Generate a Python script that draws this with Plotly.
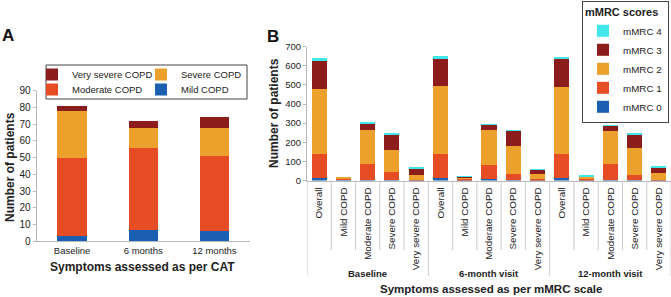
import plotly.graph_objects as go

# ---------------- Panel A data ----------------
periods_a = ["Baseline", "6 months", "12 months"]
mild_a = [3, 7, 6]
moderate_a = [47, 49, 45]
severe_a = [28, 12, 17]
very_severe_a = [3, 4, 6]

# ---------------- Panel B data ----------------
visits_b = ["Baseline", "6-month visit", "12-month visit"]
subgroups_b = ["Overall", "Mild COPD", "Moderate COPD", "Severe COPD", "Very severe COPD"]
mmrc0 = [12, 2, 5, 3, 1, 12, 3, 7, 1, 1, 12, 3, 5, 2, 1]
mmrc1 = [128, 12, 79, 39, 2, 125, 10, 72, 34, 6, 125, 10, 79, 29, 4]
mmrc2 = [338, 3, 182, 119, 27, 360, 6, 183, 143, 26, 353, 7, 175, 137, 33]
mmrc3 = [152, 0, 33, 81, 35, 145, 4, 30, 84, 25, 145, 4, 28, 75, 34]
mmrc4 = [9, 0, 4, 3, 7, 9, 1, 4, 2, 1, 13, 2, 3, 5, 5]

C_BLUE = "#1b5fb0"
C_RED = "#e64d24"
C_ORANGE = "#eba12b"
C_DARK = "#8c1d1c"
C_CYAN = "#3fe6ea"
FONT = "Liberation Sans, Arial, sans-serif"
TXT = "#222222"
W, H = 671, 297

fig = go.Figure()

# ---- Panel A traces ----
for name, vals, col, leg in [
    ("Mild COPD", mild_a, C_BLUE, "legend3"),
    ("Moderate COPD", moderate_a, C_RED, "legend3"),
    ("Severe COPD", severe_a, C_ORANGE, "legend"),
    ("Very severe COPD", very_severe_a, C_DARK, "legend"),
]:
    fig.add_trace(go.Bar(x=periods_a, y=vals, name=name, marker_color=col,
                         marker_line_width=0, width=0.41,
                         xaxis="x", yaxis="y", legend=leg))

# ---- Panel B traces ----
labels_b = [s for v in visits_b for s in subgroups_b]
xpos_b = list(range(len(labels_b)))
for name, vals, col in [
    ("mMRC 0", mmrc0, C_BLUE),
    ("mMRC 1", mmrc1, C_RED),
    ("mMRC 2", mmrc2, C_ORANGE),
    ("mMRC 3", mmrc3, C_DARK),
    ("mMRC 4", mmrc4, C_CYAN),
]:
    fig.add_trace(go.Bar(x=xpos_b, y=vals, name=name, marker_color=col,
                         marker_line_width=0, width=0.62,
                         xaxis="x2", yaxis="y2", legend="legend2"))

def px(xp):
    return xp / W

def py(yp):
    return 1 - yp / H

axis_line = "#b8b8b8"
ya_dom = [py(241.3), py(90.7)]
yb_dom = [py(180.5), py(46.7)]

leg_a_common = dict(orientation="h", traceorder="reversed", xanchor="left",
                    yanchor="top", bgcolor="rgba(0,0,0,0)", borderwidth=0,
                    entrywidth=64, itemclick=False, tracegroupgap=0,
                    font=dict(size=9.5, color=TXT, family=FONT))

fig.update_layout(
    width=W, height=H,
    margin=dict(l=0, r=0, t=0, b=0, autoexpand=False),
    plot_bgcolor="white", paper_bgcolor="white",
    barmode="stack",
    font=dict(family=FONT, color=TXT, size=10),
    xaxis=dict(domain=[px(36.5), px(250)], anchor="y", showline=True,
               linecolor=axis_line, ticks="", showgrid=False,
               tickfont=dict(size=9.5, color=TXT)),
    yaxis=dict(domain=ya_dom, anchor="x", range=[0, 90], dtick=10,
               showline=True, linecolor=axis_line, ticks="outside",
               ticklen=3, tickcolor=axis_line, showgrid=False, zeroline=False,
               tickfont=dict(size=10, color=TXT)),
    xaxis2=dict(domain=[px(307), 1.0], anchor="y2", range=[-0.5, 14.5],
                tickmode="array", tickvals=xpos_b, ticktext=labels_b,
                tickangle=-90, showline=True, linecolor=axis_line,
                ticks="", showgrid=False, zeroline=False,
                ticklabelstandoff=2,
                tickfont=dict(size=9.8, color=TXT)),
    yaxis2=dict(domain=yb_dom, anchor="x2", range=[0, 700], dtick=100,
                showline=True, linecolor=axis_line, ticks="outside",
                ticklen=3, tickcolor=axis_line, showgrid=False, zeroline=False,
                tickfont=dict(size=9.5, color=TXT)),
    legend=dict(x=px(32), y=py(60), **leg_a_common),
    legend3=dict(x=px(32), y=py(75), **leg_a_common),
    legend2=dict(orientation="v", traceorder="reversed", x=0.997, y=py(1),
                 xanchor="right", yanchor="top", bgcolor="white",
                 bordercolor="#444444", borderwidth=1, tracegroupgap=0,
                 font=dict(size=9.8, color=TXT, family=FONT),
                 title=dict(text="<b>mMRC scores</b>",
                            font=dict(size=11, color=TXT, family=FONT))),
    showlegend=True,
)

shapes = []
# legend A box
shapes.append(dict(type="rect", xref="paper", yref="paper",
                   x0=px(46), x1=px(247), y0=py(99), y1=py(65),
                   line=dict(color="#444444", width=1), fillcolor="rgba(0,0,0,0)",
                   layer="above"))
# panel B category separators
n_sub = len(subgroups_b)
for i in range(len(labels_b) + 1):
    is_group = (i % n_sub == 0)
    shapes.append(dict(type="line", xref="x2", yref="paper",
                       x0=i - 0.5, x1=i - 0.5,
                       y0=yb_dom[0], y1=py(276) if is_group else py(250),
                       line=dict(color="#cccccc", width=1)))
fig.update_layout(shapes=shapes)

ann = []
# group labels
for gi, g in enumerate(visits_b):
    ann.append(dict(text=f"<b>{g}</b>", xref="x2", yref="paper",
                    x=gi * n_sub + (n_sub - 1) / 2, y=py(273),
                    showarrow=False, font=dict(size=9.5, color=TXT),
                    xanchor="center", yanchor="middle"))
# axis titles
ann += [
    dict(text="<b>Symptoms assessed as per CAT</b>", xref="paper", yref="paper",
         x=px(142), y=py(267), showarrow=False, font=dict(size=12, color=TXT),
         xanchor="center", yanchor="middle"),
    dict(text="<b>Number of patients</b>", xref="paper", yref="paper",
         x=px(10), y=py(167), showarrow=False, textangle=-90,
         font=dict(size=12, color=TXT), xanchor="center", yanchor="middle"),
    dict(text="<b>Symptoms assessed as per mMRC scale</b>", xref="paper", yref="paper",
         x=px(491), y=py(289), showarrow=False, font=dict(size=11.5, color=TXT),
         xanchor="center", yanchor="middle"),
    dict(text="<b>Number of patients</b>", xref="paper", yref="paper",
         x=px(274), y=py(113), showarrow=False, textangle=-90,
         font=dict(size=12, color=TXT), xanchor="center", yanchor="middle"),
    dict(text="<b>A</b>", xref="paper", yref="paper", x=px(7.5), y=py(35),
         showarrow=False, font=dict(size=17, color="#111111"),
         xanchor="center", yanchor="middle"),
    dict(text="<b>B</b>", xref="paper", yref="paper", x=px(273), y=py(36),
         showarrow=False, font=dict(size=17, color="#111111"),
         xanchor="center", yanchor="middle"),
]
fig.update_layout(annotations=ann)

fig.write_html(
    "out.html",
    config={"displayModeBar": False},
    post_script="document.body.style.margin='0';document.body.style.overflow='hidden';",
)
